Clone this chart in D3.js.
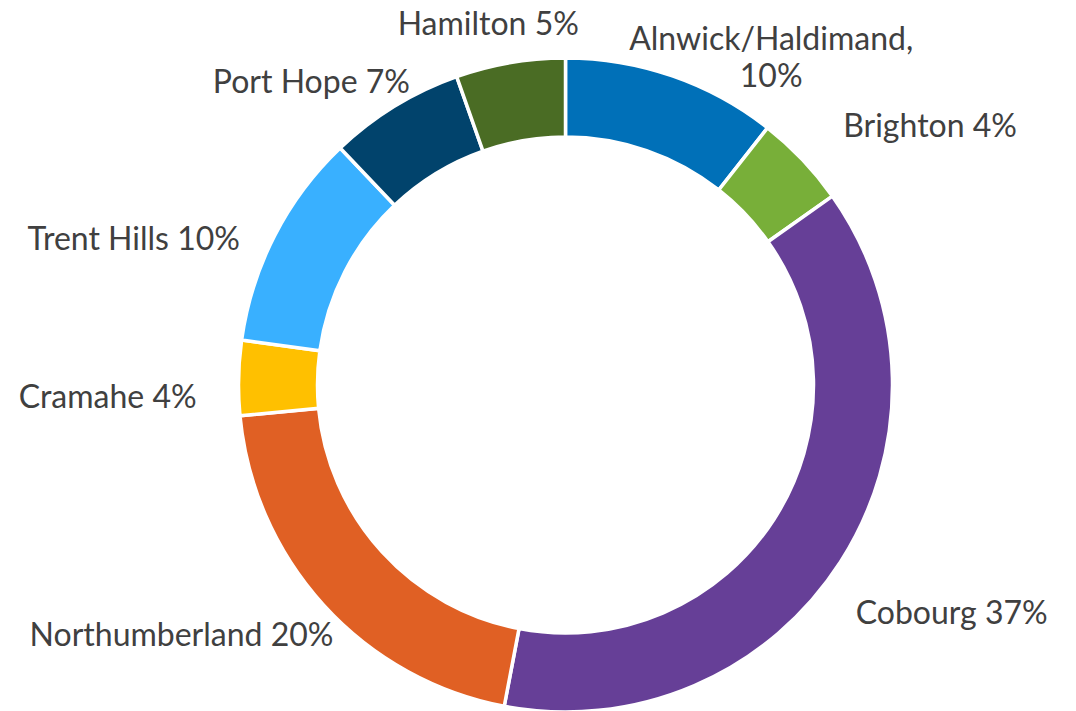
<html>
<head>
<meta charset="utf-8">
<style>
  body { margin: 0; background: #fff; }
</style>
</head>
<body>
<div id="chartContainer"></div>
<script src="https://cdn.jsdelivr.net/npm/d3@7"></script>
<script type="text/javascript">
  // chart data
  var names = ["Alnwick/Haldimand,", "Brighton", "Cobourg", "Northumberland",
               "Cramahe", "Trent Hills", "Port Hope", "Hamilton"];
  var shares = [10.6, 4.6, 37.8, 20.5, 3.7, 10.7, 6.7, 5.4];
  var pctLabels = ["10%", "4%", "37%", "20%", "4%", "10%", "7%", "5%"];
  var colors = ["#0070b8", "#78af39", "#663f97", "#e06024",
                "#ffc000", "#39b0ff", "#01436c", "#4a6c24"];

  // label nudges from the arc centroid: [dx, dy, anchor, line break]
  var labelLayout = [
    [89, 2, "middle", true],
    [19, -2, "start", false],
    [-10, 46, "start", false],
    [32, 21, "end", false],
    [-12, 31, "end", false],
    [-8, 28, "end", false],
    [31, 12, "end", false],
    [-17, 2, "middle", false]
  ];

  var width = 1076, height = 711;
  var cx = 565.5, cy = 385;
  var outerR = 327, innerR = 248;

  var svg = d3.select("#chartContainer").append("svg")
      .attr("width", width)
      .attr("height", height);

  var g = svg.append("g").attr("transform", "translate(" + cx + "," + cy + ")");

  var data = names.map(function (n, i) { return { name: n, value: shares[i], i: i }; });

  var pie = d3.pie().sort(null).value(function (d) { return d.value; });
  var arc = d3.arc().innerRadius(innerR).outerRadius(outerR);
  var labelArc = d3.arc().innerRadius(outerR + 30).outerRadius(outerR + 30);

  var arcs = pie(data);

  g.selectAll("path.slice")
      .data(arcs)
      .enter()
      .append("path")
      .attr("class", "slice")
      .attr("d", arc)
      .style("fill", function (d) { return colors[d.data.i]; })
      .style("stroke", "#fff")
      .style("stroke-width", 3.5);

  var labels = g.selectAll("text.lbl")
      .data(arcs)
      .enter()
      .append("text")
      .attr("class", "lbl")
      .attr("transform", function (d) {
        var c = labelArc.centroid(d);
        var l = labelLayout[d.data.i];
        return "translate(" + (c[0] + l[0]) + "," + (c[1] + l[1]) + ")";
      })
      .attr("text-anchor", function (d) { return labelLayout[d.data.i][2]; })
      .style("font-family", "Lato, 'Open Sans', sans-serif")
      .style("font-size", "32px")
      .style("fill", "#404040");

  labels.each(function (d) {
    var t = d3.select(this);
    var l = labelLayout[d.data.i];
    if (l[3]) {
      t.append("tspan").attr("x", 0).attr("y", 0).text(d.data.name);
      t.append("tspan").attr("x", 0).attr("y", 37.5).text(pctLabels[d.data.i]);
    } else {
      t.text(d.data.name + " " + pctLabels[d.data.i]);
    }
  });
</script>
</body>
</html>
